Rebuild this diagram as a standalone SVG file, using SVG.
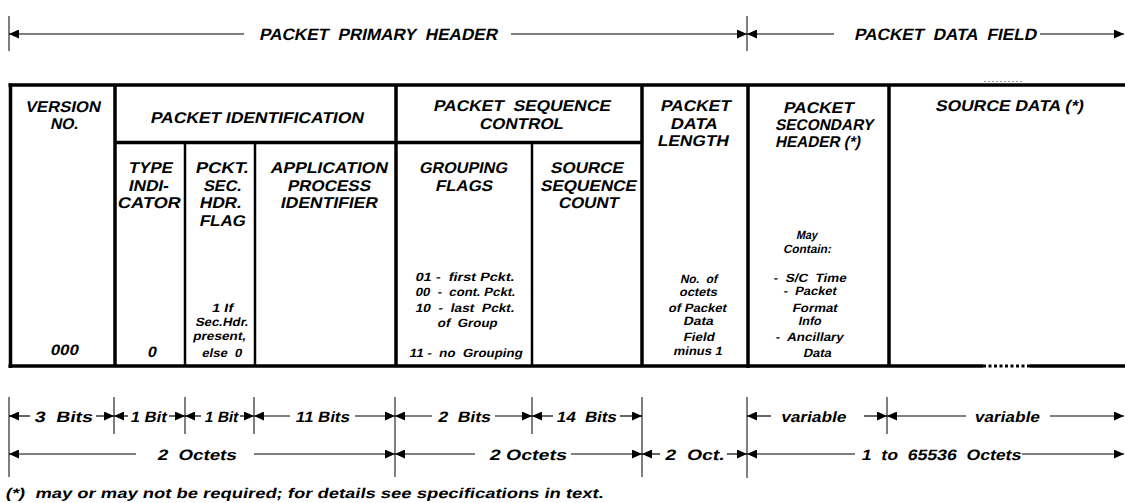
<svg xmlns="http://www.w3.org/2000/svg" width="1125" height="503" viewBox="0 0 1125 503">
<style>
text{font-family:"Liberation Sans",Arial,Helvetica,sans-serif;font-weight:bold;font-style:normal;fill:#000}
.h{font-size:16.5px}
.th{font-size:15.5px}
.v{font-size:15px}
.s{font-size:12px}
.d{font-size:15px}
.fn{font-size:14px}
.b{stroke:#000;stroke-width:3.5;fill:none}
.m{stroke:#000;stroke-width:2.5;fill:none}
.tk{stroke:#555;stroke-width:1.5}
.al{stroke:#000;stroke-width:1.2;marker-end:url(#ah)}
</style>
<defs>
<marker id="ah" markerUnits="userSpaceOnUse" markerWidth="10" markerHeight="9" refX="10" refY="4.5" orient="auto">
<path d="M0,0 L10,4.5 L0,9 z" fill="#000"/>
</marker>
</defs>
<rect width="1125" height="503" fill="#fff"/>

<g id="top-header">
<line class="tk" x1="9" y1="16" x2="9" y2="51"/>
<line class="tk" x1="747" y1="16" x2="747" y2="51"/>
<text class="h" transform="translate(259,40) skewX(-12)" textLength="238" lengthAdjust="spacingAndGlyphs" xml:space="preserve">PACKET  PRIMARY  HEADER</text>
<text class="h" transform="translate(854,40) skewX(-12)" textLength="182" lengthAdjust="spacingAndGlyphs" xml:space="preserve">PACKET  DATA  FIELD</text>
</g>

<g id="table-frame">
<line class="b" x1="8.5" y1="85" x2="1125" y2="85"/>
<line class="b" x1="10.5" y1="83.5" x2="10.5" y2="368"/>
<line class="b" x1="8.5" y1="366" x2="983" y2="366"/>
<line class="b" x1="1030" y1="366" x2="1125" y2="366"/>
<line x1="983" y1="366" x2="1030" y2="366" stroke="#000" stroke-width="3" stroke-dasharray="3,2.5"/>
<line x1="984" y1="81.5" x2="1023" y2="81.5" stroke="#999" stroke-width="1.2" stroke-dasharray="2,2"/>
<line class="b" x1="115" y1="85" x2="115" y2="366"/>
<line class="b" x1="115" y1="142.5" x2="643" y2="142.5"/>
<line class="m" x1="185" y1="142" x2="185" y2="366"/>
<line class="m" x1="255" y1="142" x2="255" y2="366"/>
<line class="b" x1="396" y1="85" x2="396" y2="366"/>
<line class="m" x1="532" y1="142" x2="532" y2="366"/>
<line class="b" x1="642" y1="85" x2="642" y2="366"/>
<line class="b" x1="748" y1="85" x2="748" y2="368"/>
<line class="b" x1="889" y1="85" x2="889" y2="366"/>
</g>

<g id="version">
<text class="th" transform="translate(25,112) skewX(-12)" textLength="75" lengthAdjust="spacingAndGlyphs">VERSION</text>
<text class="th" transform="translate(50,129) skewX(-12)" textLength="28" lengthAdjust="spacingAndGlyphs">NO.</text>
<text class="v" transform="translate(50,355) skewX(-12)" textLength="28" lengthAdjust="spacingAndGlyphs">000</text>
</g>

<g id="packet-identification">
<text class="th" transform="translate(150,123) skewX(-12)" textLength="213" lengthAdjust="spacingAndGlyphs">PACKET IDENTIFICATION</text>
</g>

<g id="type-indicator">
<text class="th" transform="translate(128,173) skewX(-12)" textLength="44" lengthAdjust="spacingAndGlyphs">TYPE</text>
<text class="th" transform="translate(128,191) skewX(-12)" textLength="40" lengthAdjust="spacingAndGlyphs">INDI-</text>
<text class="th" transform="translate(117,208) skewX(-12)" textLength="63" lengthAdjust="spacingAndGlyphs">CATOR</text>
<text class="v" transform="translate(147,357) skewX(-12)" textLength="9" lengthAdjust="spacingAndGlyphs">0</text>
</g>

<g id="sec-hdr-flag">
<text class="th" transform="translate(195,173) skewX(-12)" textLength="53" lengthAdjust="spacingAndGlyphs">PCKT.</text>
<text class="th" transform="translate(203,191) skewX(-12)" textLength="38" lengthAdjust="spacingAndGlyphs">SEC.</text>
<text class="th" transform="translate(199,208) skewX(-12)" textLength="42" lengthAdjust="spacingAndGlyphs">HDR.</text>
<text class="th" transform="translate(199,226) skewX(-12)" textLength="46" lengthAdjust="spacingAndGlyphs">FLAG</text>
<text class="s" transform="translate(211.5,312) skewX(-12)" textLength="21" lengthAdjust="spacingAndGlyphs">1 If</text>
<text class="s" transform="translate(195,326) skewX(-12)" textLength="53" lengthAdjust="spacingAndGlyphs">Sec.Hdr.</text>
<text class="s" transform="translate(192.5,340) skewX(-12)" textLength="53" lengthAdjust="spacingAndGlyphs">present,</text>
<text class="s" transform="translate(201.5,357) skewX(-12)" textLength="40" lengthAdjust="spacingAndGlyphs" xml:space="preserve">else  0</text>
</g>

<g id="apid">
<text class="th" transform="translate(270,173) skewX(-12)" textLength="117" lengthAdjust="spacingAndGlyphs">APPLICATION</text>
<text class="th" transform="translate(287,191) skewX(-12)" textLength="83" lengthAdjust="spacingAndGlyphs">PROCESS</text>
<text class="th" transform="translate(280,208) skewX(-12)" textLength="97" lengthAdjust="spacingAndGlyphs">IDENTIFIER</text>
</g>

<g id="packet-sequence-control">
<text class="th" transform="translate(433,111) skewX(-12)" textLength="177" lengthAdjust="spacingAndGlyphs" xml:space="preserve">PACKET  SEQUENCE</text>
<text class="th" transform="translate(479,129) skewX(-12)" textLength="84" lengthAdjust="spacingAndGlyphs">CONTROL</text>
</g>

<g id="grouping-flags">
<text class="th" transform="translate(419,173) skewX(-12)" textLength="88" lengthAdjust="spacingAndGlyphs">GROUPING</text>
<text class="th" transform="translate(435,191) skewX(-12)" textLength="57" lengthAdjust="spacingAndGlyphs">FLAGS</text>
<text class="s" transform="translate(415,281) skewX(-12)" textLength="99" lengthAdjust="spacingAndGlyphs" xml:space="preserve">01 -  first Pckt.</text>
<text class="s" transform="translate(415,296) skewX(-12)" textLength="100" lengthAdjust="spacingAndGlyphs" xml:space="preserve">00  -  cont. Pckt.</text>
<text class="s" transform="translate(415,312) skewX(-12)" textLength="99" lengthAdjust="spacingAndGlyphs" xml:space="preserve">10  -  last  Pckt.</text>
<text class="s" transform="translate(437,327) skewX(-12)" textLength="60" lengthAdjust="spacingAndGlyphs" xml:space="preserve">of  Group</text>
<text class="s" transform="translate(409,357) skewX(-12)" textLength="113" lengthAdjust="spacingAndGlyphs" xml:space="preserve">11 -  no  Grouping</text>
</g>

<g id="source-sequence-count">
<text class="th" transform="translate(550,173) skewX(-12)" textLength="73" lengthAdjust="spacingAndGlyphs">SOURCE</text>
<text class="th" transform="translate(540,191) skewX(-12)" textLength="96" lengthAdjust="spacingAndGlyphs">SEQUENCE</text>
<text class="th" transform="translate(558,208) skewX(-12)" textLength="60" lengthAdjust="spacingAndGlyphs">COUNT</text>
</g>

<g id="packet-data-length">
<text class="th" transform="translate(660,111) skewX(-12)" textLength="70" lengthAdjust="spacingAndGlyphs">PACKET</text>
<text class="th" transform="translate(670,129) skewX(-12)" textLength="47" lengthAdjust="spacingAndGlyphs">DATA</text>
<text class="th" transform="translate(657,146) skewX(-12)" textLength="71" lengthAdjust="spacingAndGlyphs">LENGTH</text>
<text class="s" transform="translate(680,283) skewX(-12)" textLength="37" lengthAdjust="spacingAndGlyphs" xml:space="preserve">No.  of</text>
<text class="s" transform="translate(679,296) skewX(-12)" textLength="38" lengthAdjust="spacingAndGlyphs">octets</text>
<text class="s" transform="translate(668,312) skewX(-12)" textLength="58" lengthAdjust="spacingAndGlyphs">of Packet</text>
<text class="s" transform="translate(683,325) skewX(-12)" textLength="30" lengthAdjust="spacingAndGlyphs">Data</text>
<text class="s" transform="translate(683,341) skewX(-12)" textLength="31" lengthAdjust="spacingAndGlyphs">Field</text>
<text class="s" transform="translate(673,355) skewX(-12)" textLength="49" lengthAdjust="spacingAndGlyphs">minus 1</text>
</g>

<g id="secondary-header">
<text class="th" transform="translate(783,113) skewX(-12)" textLength="70" lengthAdjust="spacingAndGlyphs">PACKET</text>
<text class="th" transform="translate(775,130) skewX(-12)" textLength="98" lengthAdjust="spacingAndGlyphs">SECONDARY</text>
<text class="th" transform="translate(775,147) skewX(-12)" textLength="85" lengthAdjust="spacingAndGlyphs">HEADER (*)</text>
<text class="s" transform="translate(796,239) skewX(-12)" textLength="21" lengthAdjust="spacingAndGlyphs">May</text>
<text class="s" transform="translate(783,253) skewX(-12)" textLength="48" lengthAdjust="spacingAndGlyphs">Contain:</text>
<text class="s" transform="translate(773,282) skewX(-12)" textLength="73" lengthAdjust="spacingAndGlyphs" xml:space="preserve">-  S/C  Time</text>
<text class="s" transform="translate(783,295) skewX(-12)" textLength="53" lengthAdjust="spacingAndGlyphs" xml:space="preserve">-  Packet</text>
<text class="s" transform="translate(792,312) skewX(-12)" textLength="45" lengthAdjust="spacingAndGlyphs">Format</text>
<text class="s" transform="translate(798,325) skewX(-12)" textLength="23" lengthAdjust="spacingAndGlyphs">Info</text>
<text class="s" transform="translate(775,341) skewX(-12)" textLength="68" lengthAdjust="spacingAndGlyphs" xml:space="preserve">-  Ancillary</text>
<text class="s" transform="translate(803,357) skewX(-12)" textLength="28" lengthAdjust="spacingAndGlyphs">Data</text>
</g>

<g id="source-data">
<text class="th" transform="translate(935,111) skewX(-12)" textLength="148" lengthAdjust="spacingAndGlyphs">SOURCE DATA (*)</text>
</g>

<g id="dimension-labels">
<text class="d" transform="translate(34,421.5) skewX(-12)" textLength="58" lengthAdjust="spacingAndGlyphs" xml:space="preserve">3  Bits</text>
<text class="d" transform="translate(130,421.5) skewX(-12)" textLength="36" lengthAdjust="spacingAndGlyphs">1 Bit</text>
<text class="d" transform="translate(204,421.5) skewX(-12)" textLength="33.5" lengthAdjust="spacingAndGlyphs">1 Bit</text>
<text class="d" transform="translate(295,421.5) skewX(-12)" textLength="54" lengthAdjust="spacingAndGlyphs">11 Bits</text>
<text class="d" transform="translate(437.5,421.5) skewX(-12)" textLength="52.5" lengthAdjust="spacingAndGlyphs" xml:space="preserve">2  Bits</text>
<text class="d" transform="translate(556,421.5) skewX(-12)" textLength="60" lengthAdjust="spacingAndGlyphs" xml:space="preserve">14  Bits</text>
<text class="d" transform="translate(780.5,421.5) skewX(-12)" textLength="65" lengthAdjust="spacingAndGlyphs">variable</text>
<text class="d" transform="translate(974,421.5) skewX(-12)" textLength="65" lengthAdjust="spacingAndGlyphs">variable</text>
<text class="d" transform="translate(157,459.5) skewX(-12)" textLength="79" lengthAdjust="spacingAndGlyphs" xml:space="preserve">2  Octets</text>
<text class="d" transform="translate(489,459.5) skewX(-12)" textLength="77" lengthAdjust="spacingAndGlyphs">2 Octets</text>
<text class="d" transform="translate(664.5,459.5) skewX(-12)" textLength="59.5" lengthAdjust="spacingAndGlyphs" xml:space="preserve">2  Oct.</text>
<text class="d" transform="translate(861,459.5) skewX(-12)" textLength="159.5" lengthAdjust="spacingAndGlyphs" xml:space="preserve">1  to  65536  Octets</text>
</g>

<g id="footnote">
<text class="fn" transform="translate(5,498) skewX(-12)" textLength="598" lengthAdjust="spacingAndGlyphs" xml:space="preserve">(*)  may or may not be required; for details see specifications in text.</text>
</g>

<g id="connectors">
<line class="al" x1="244" y1="34" x2="9" y2="34"/>
<line class="al" x1="511" y1="34" x2="747" y2="34"/>
<line class="al" x1="834" y1="34" x2="747" y2="34"/>
<line class="al" x1="1040" y1="34" x2="1124" y2="34"/>

<line class="tk" x1="9" y1="397" x2="9" y2="477"/>
<line class="tk" x1="114" y1="397" x2="114" y2="434"/>
<line class="tk" x1="185" y1="397" x2="185" y2="434"/>
<line class="tk" x1="254" y1="397" x2="254" y2="434"/>
<line class="tk" x1="395" y1="397" x2="395" y2="477"/>
<line class="tk" x1="532" y1="397" x2="532" y2="434"/>
<line class="tk" x1="642" y1="397" x2="642" y2="477"/>
<line class="tk" x1="747" y1="397" x2="747" y2="478"/>
<line class="tk" x1="887" y1="397" x2="887" y2="434"/>

<line class="al" x1="30" y1="416" x2="9" y2="416"/>
<line class="al" x1="96" y1="416" x2="114" y2="416"/>
<line class="al" x1="128" y1="416" x2="114" y2="416"/>
<line class="al" x1="169" y1="416" x2="185" y2="416"/>
<line class="al" x1="201" y1="416" x2="185" y2="416"/>
<line class="al" x1="240" y1="416" x2="254" y2="416"/>
<line class="al" x1="290" y1="416" x2="254" y2="416"/>
<line class="al" x1="355" y1="416" x2="395" y2="416"/>
<line class="al" x1="432" y1="416" x2="395" y2="416"/>
<line class="al" x1="495" y1="416" x2="532" y2="416"/>
<line class="al" x1="553" y1="416" x2="532" y2="416"/>
<line class="al" x1="620" y1="416" x2="642" y2="416"/>
<line class="al" x1="771" y1="416" x2="747" y2="416"/>
<line class="al" x1="864" y1="416" x2="887" y2="416"/>
<line class="al" x1="966" y1="416" x2="887" y2="416"/>
<line class="al" x1="1050" y1="416" x2="1124" y2="416"/>

<line class="al" x1="136" y1="454" x2="9" y2="454"/>
<line class="al" x1="254" y1="454" x2="395" y2="454"/>
<line class="al" x1="475" y1="454" x2="395" y2="454"/>
<line class="al" x1="571" y1="454" x2="642" y2="454"/>
<line class="al" x1="660" y1="454" x2="642" y2="454"/>
<line class="al" x1="727" y1="454" x2="747" y2="454"/>
<line class="al" x1="855" y1="454" x2="747" y2="454"/>
<line class="al" x1="1022" y1="454" x2="1124" y2="454"/>
</g>
</svg>
